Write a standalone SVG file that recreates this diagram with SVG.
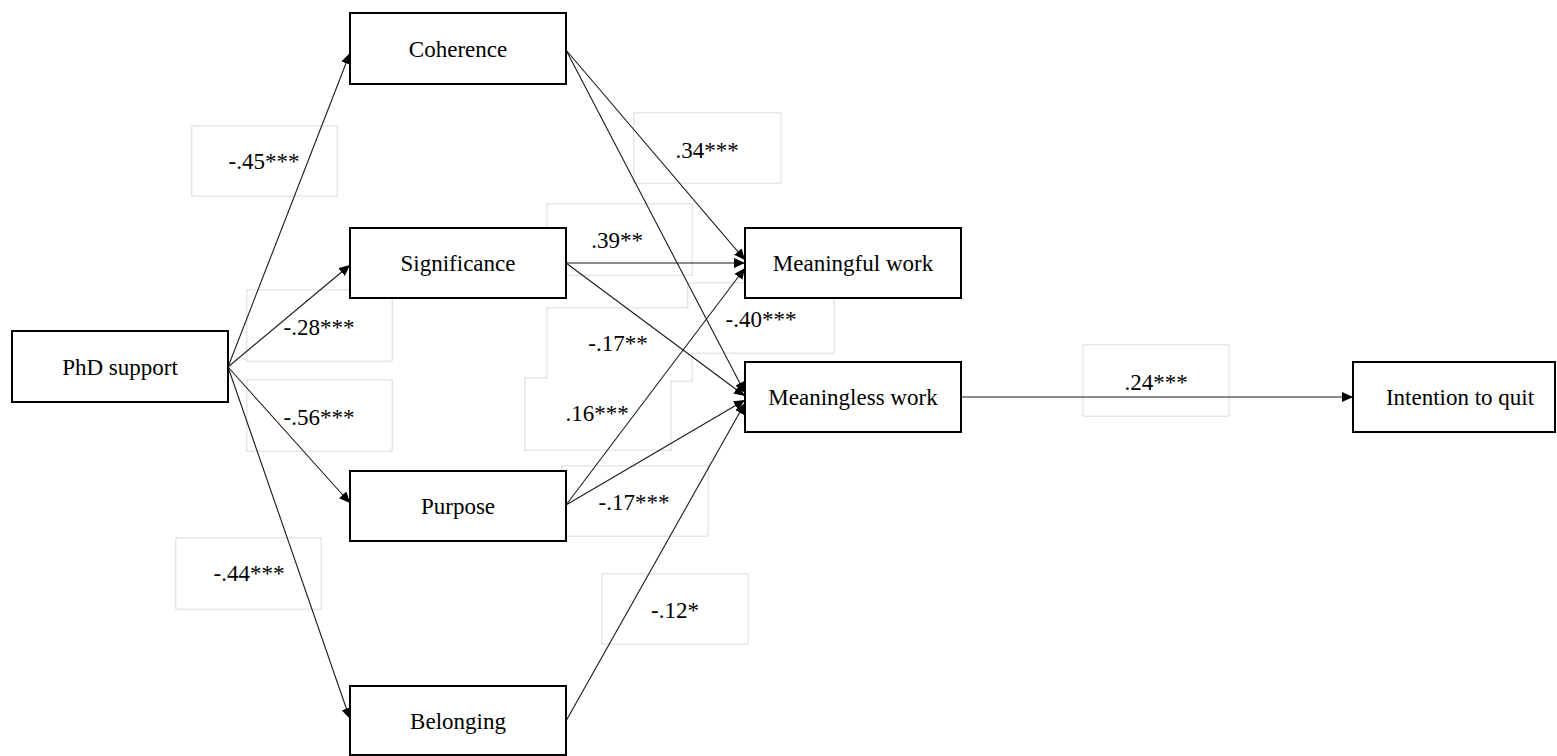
<svg xmlns="http://www.w3.org/2000/svg" width="1557" height="756" viewBox="0 0 1557 756">
<style>
.node rect{fill:#fff;stroke:#000;stroke-width:2}
.t{font-family:"Times New Roman","Liberation Serif",Tinos,"DejaVu Serif",serif;font-size:23px;fill:#000;text-anchor:middle}
.lbox{fill:none;stroke:#cdcdcd;stroke-width:1}
.lfill{fill:#fff;stroke:none}
.conn line{stroke:#1a1a1a;stroke-width:1.1;fill:none;marker-end:url(#ah)}
</style>
<defs>
<marker id="ah" markerUnits="userSpaceOnUse" markerWidth="12" markerHeight="10" refX="11" refY="5" orient="auto">
<path d="M0,0 L11,5 L0,10 Z" fill="#000"/>
</marker>
</defs>
<rect width="1557" height="756" fill="#fff"/>
<g id="label-boxes">
<g class="lbox">
<rect x="192" y="126" width="145" height="70"/>
<rect x="247" y="290" width="145" height="71"/>
<rect x="247" y="380" width="145" height="71"/>
<rect x="176" y="538" width="145" height="71"/>
<rect x="634" y="113" width="147" height="70"/>
<rect x="547" y="204" width="145" height="71"/>
<rect x="688" y="283" width="146" height="70"/>
<rect x="547" y="308" width="145" height="73"/>
<rect x="525" y="378" width="146" height="72"/>
<rect x="562" y="466" width="146" height="70"/>
<rect x="602" y="574" width="146" height="70"/>
<rect x="1083" y="345" width="146" height="71"/>
</g>
<g class="lfill">
<rect x="192.5" y="126.5" width="144" height="69"/>
<rect x="247.5" y="290.5" width="144" height="70"/>
<rect x="247.5" y="380.5" width="144" height="70"/>
<rect x="176.5" y="538.5" width="144" height="70"/>
<rect x="634.5" y="113.5" width="146" height="69"/>
<rect x="547.5" y="204.5" width="144" height="70"/>
<rect x="688.5" y="283.5" width="145" height="69"/>
<rect x="547.5" y="308.5" width="144" height="72"/>
<rect x="525.5" y="378.5" width="145" height="71"/>
<rect x="562.5" y="466.5" width="145" height="69"/>
<rect x="602.5" y="574.5" width="145" height="69"/>
<rect x="1083.5" y="345.5" width="145" height="70"/>
</g>
<g class="t" font-family="Times New Roman, Liberation Serif, serif">
<text x="264" y="169">-.45***</text>
<text x="319" y="335">-.28***</text>
<text x="319" y="425">-.56***</text>
<text x="249" y="581">-.44***</text>
<text x="707" y="158">.34***</text>
<text x="617" y="248">.39**</text>
<text x="761" y="327">-.40***</text>
<text x="618" y="351">-.17**</text>
<text x="597" y="421">.16***</text>
<text x="634" y="510">-.17***</text>
<text x="675" y="618">-.12*</text>
<text x="1156" y="390">.24***</text>
</g>
</g>
<g id="connectors" class="conn">
<line x1="228" y1="367" x2="350" y2="53"/>
<line x1="228" y1="367" x2="350" y2="265"/>
<line x1="228" y1="367" x2="350" y2="503"/>
<line x1="228" y1="367" x2="350" y2="719"/>
<line x1="566" y1="50" x2="745" y2="260"/>
<line x1="566" y1="50" x2="745" y2="393"/>
<line x1="566" y1="263" x2="745" y2="263"/>
<line x1="566" y1="263" x2="745" y2="396"/>
<line x1="566" y1="505" x2="745" y2="268"/>
<line x1="566" y1="505" x2="745" y2="400"/>
<line x1="566" y1="721" x2="745" y2="403"/>
<line x1="961" y1="397" x2="1353" y2="397"/>
</g>
<g id="phd-support" class="node"><rect x="12" y="331" width="216" height="71"/><text class="t" x="120" y="375">PhD support</text></g>
<g id="coherence" class="node"><rect x="350" y="13" width="216" height="71"/><text class="t" x="458" y="57">Coherence</text></g>
<g id="significance" class="node"><rect x="350" y="228" width="216" height="70"/><text class="t" x="458" y="271">Significance</text></g>
<g id="purpose" class="node"><rect x="350" y="471" width="216" height="70"/><text class="t" x="458" y="514">Purpose</text></g>
<g id="belonging" class="node"><rect x="350" y="686" width="216" height="69"/><text class="t" x="458" y="729">Belonging</text></g>
<g id="meaningful-work" class="node"><rect x="745" y="228" width="216" height="70"/><text class="t" x="853" y="271">Meaningful work</text></g>
<g id="meaningless-work" class="node"><rect x="745" y="362" width="216" height="70"/><text class="t" x="853" y="405">Meaningless work</text></g>
<g id="intention-to-quit" class="node"><rect x="1353" y="362" width="202" height="70"/><text class="t" x="1460" y="405">Intention to quit</text></g>
</svg>
